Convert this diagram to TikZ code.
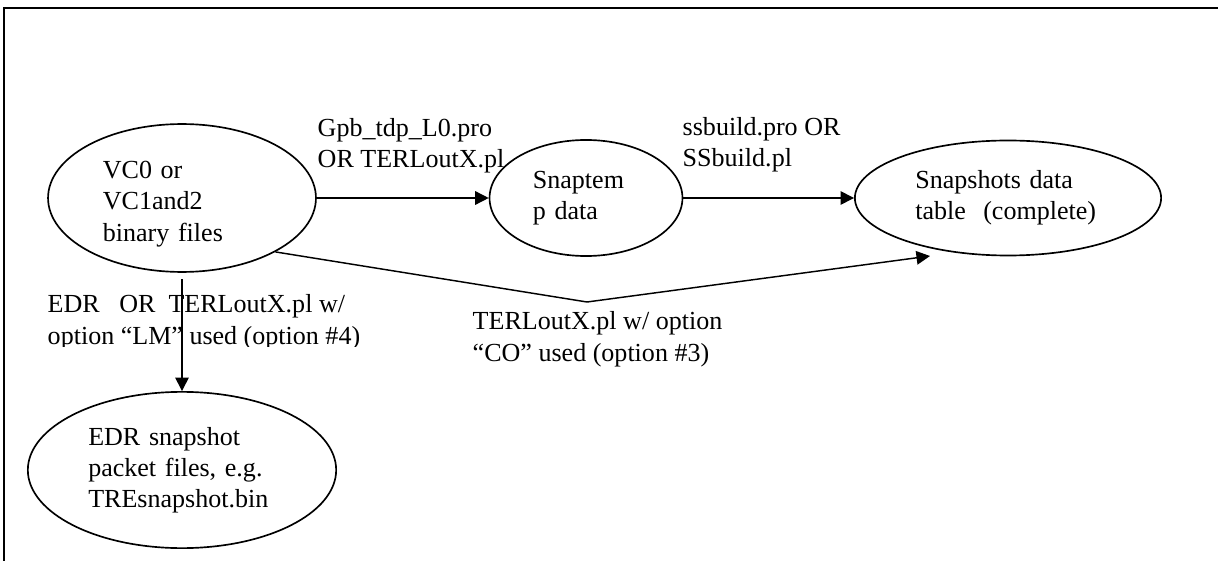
\documentclass[tikz,border=0pt]{standalone}
\usepackage{fontspec}
\setmainfont{Liberation Serif}
\usetikzlibrary{shapes.geometric,arrows.meta}
\begin{document}
\begin{tikzpicture}[x=0.48pt, y=-0.48pt, line width=0.7pt,
  every node/.style={font=\fontsize{12.5}{15}\selectfont},
  blob/.style={ellipse, draw, line width=0.8pt, inner sep=0pt, align=left},
  lbl/.style={anchor=base west, inner sep=0pt, align=left},
  flow/.style={-{Triangle[length=6.5pt,width=6.5pt]}}]
  \useasboundingbox (0,0) rectangle (1218,561);
  \draw[line width=1.4pt] (4,561) -- (4,8) -- (1218,8);
  \node[blob, minimum width=128.6pt, minimum height=71pt, text width=76pt, text height=14pt] (vc) at (182,198) {VC0 or\\VC1and2\\binary files};
  \node[blob, minimum width=92.6pt, minimum height=55.7pt, text width=51pt] (snaptemp) at (586,198) {Snaptem\\p data};
  \node[blob, minimum width=147pt, minimum height=55.2pt, text width=89pt] (snapshots) at (1008,198) {Snapshots data\\table~ (complete)};
  \node[blob, minimum width=148pt, minimum height=75pt, text width=90pt] (edr) at (182,470) {EDR snapshot\\packet files, e.g.\\TREsnapshot.bin};
  \node[lbl] (gpb) at (317,168) {Gpb\_tdp\_L0.pro\\OR TERLoutX.pl};
  \node[lbl] (ssb) at (682,167) {ssbuild.pro OR\\SSbuild.pl};
  \node[lbl] (co) at (472,361) {TERLoutX.pl w/ option\\“CO” used (option \#3)};
  \begin{scope}
    \clip (0,280) rectangle (420,346);
    \node[lbl] (lm) at (47,344) {EDR\ \ \ OR\ \ TERLoutX.pl w/\\option “LM” used (option \#4)};
  \end{scope}
  \coordinate (bend) at (587,302);
  \coordinate (cotip) at (930,256);
  \draw[flow] (vc.east) -- (snaptemp.west);
  \draw[flow] (snaptemp.east) -- (snapshots.west);
  \draw[flow, shorten <=3pt] (vc.south) -- (edr.north);
  \draw[flow] (vc.-30) -- (bend) -- (cotip);
\end{tikzpicture}
\end{document}
